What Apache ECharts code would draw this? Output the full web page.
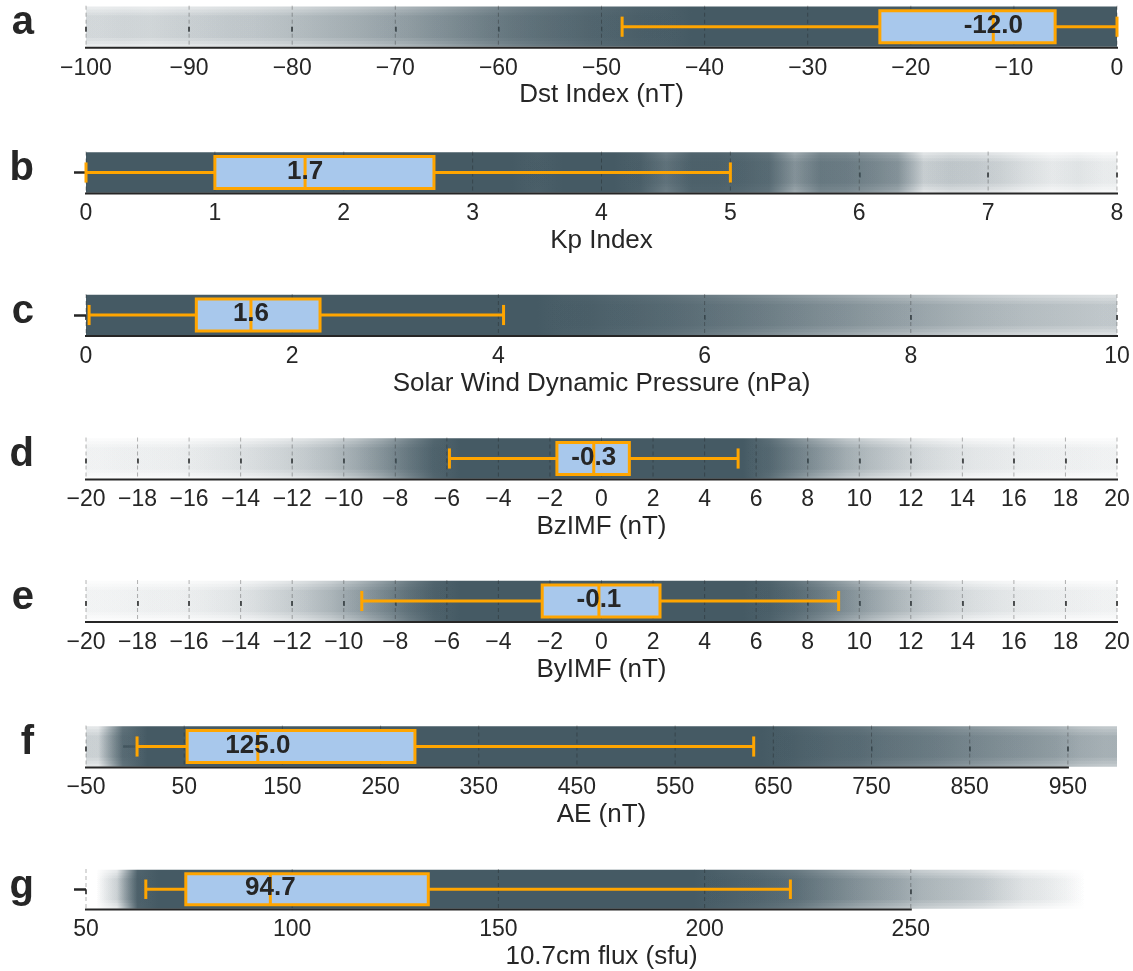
<!DOCTYPE html>
<html>
<head>
<meta charset="utf-8">
<script src="https://cdn.jsdelivr.net/npm/echarts@6/dist/echarts.min.js"></script>
<style>
  html, body { margin: 0; padding: 0; background: #fff; }
  #chart { width: 1133px; height: 971px; }
</style>
</head>
<body>
<div id="chart"></div>
<script>
// ---------------- data ----------------
const panelLetters = ['a', 'b', 'c', 'd', 'e', 'f', 'g'];
const axisTitles = [
  'Dst Index (nT)',
  'Kp Index',
  'Solar Wind Dynamic Pressure (nPa)',
  'BzIMF (nT)',
  'ByIMF (nT)',
  'AE (nT)',
  '10.7cm flux (sfu)'
];
const axisMins = [-100, 0, 0, -20, -20, -50, 50];
const axisMaxs = [0, 8, 10, 20, 20, 1000, 300];

const dstTicks = [-100, -90, -80, -70, -60, -50, -40, -30, -20, -10, 0];
const kpTicks = [0, 1, 2, 3, 4, 5, 6, 7, 8];
const pdynTicks = [0, 2, 4, 6, 8, 10];
const bzTicks = [-20, -18, -16, -14, -12, -10, -8, -6, -4, -2, 0, 2, 4, 6, 8, 10, 12, 14, 16, 18, 20];
const byTicks = [-20, -18, -16, -14, -12, -10, -8, -6, -4, -2, 0, 2, 4, 6, 8, 10, 12, 14, 16, 18, 20];
const aeTicks = [-50, 50, 150, 250, 350, 450, 550, 650, 750, 850, 950];
const f107Ticks = [50, 100, 150, 200, 250];

// box statistics: [lower whisker, Q1, median, Q3, upper whisker]
const dstBox = [-48, -23, -12.0, -6, 0];
const kpBox = [0, 1.0, 1.7, 2.7, 5.0];
const pdynBox = [0.03, 1.07, 1.6, 2.27, 4.05];
const bzBox = [-5.9, -1.73, -0.3, 1.08, 5.3];
const byBox = [-9.3, -2.3, -0.1, 2.27, 9.2];
const aeBox = [2, 53, 125.0, 285, 630];
const f107Box = [64.5, 74.2, 94.7, 133, 220.8];

// relative density of the individual samples, per bin (1 = saturated strip)
const dstBinStart = -100, dstBinWidth = 2.5;
const dstDensity = [0.24, 0.26, 0.25, 0.28, 0.3, 0.33, 0.35, 0.38, 0.42, 0.46, 0.5, 0.55,
  0.6, 0.66, 0.72, 0.78, 0.83, 0.87, 0.9, 0.93, 0.95, 0.97, 0.98, 1,
  1, 1, 1, 1, 1, 1, 1, 1, 1, 1, 1, 1, 1, 1, 1, 1];

const kpBinStart = 0, kpBinWidth = 0.2;
const kpDensity = [1, 1, 1, 1, 1, 1, 1, 1, 1, 1, 1, 1, 1, 1, 1,
  1, 1, 0.98, 1, 1, 1, 0.97, 0.86, 0.96, 0.96,
  0.94, 0.9, 0.66, 0.82, 0.8, 0.74, 0.66, 0.3, 0.35, 0.33,
  0.28, 0.2, 0.14, 0.17, 0.12];

const pdynBinStart = 0, pdynBinWidth = 0.25;
const pdynDensity = [1, 1, 1, 1, 1, 1, 1, 1, 1, 1, 1, 1, 1, 1, 1, 1,
  1, 1, 0.98, 0.97, 0.95, 0.93, 0.91, 0.88, 0.85, 0.82, 0.78, 0.74,
  0.7, 0.66, 0.62, 0.58, 0.54, 0.5, 0.46, 0.43, 0.4, 0.38, 0.36, 0.34];

const bzBinStart = -20, bzBinWidth = 1;
const bzDensity = [0.08, 0.09, 0.1, 0.11, 0.14, 0.17, 0.21, 0.26, 0.32, 0.4,
  0.52, 0.66, 0.82, 0.95, 1, 1, 1, 1, 1, 1, 1, 1, 1, 1, 1, 1,
  0.92, 0.78, 0.64, 0.5, 0.4, 0.32, 0.24, 0.19, 0.15, 0.13, 0.11, 0.1, 0.09, 0.08];

const byBinStart = -20, byBinWidth = 1;
const byDensity = [0.07, 0.08, 0.09, 0.1, 0.12, 0.15, 0.2, 0.27, 0.35, 0.45,
  0.58, 0.72, 0.86, 0.96, 1, 1, 1, 1, 1, 1, 1, 1, 1, 1, 1, 1,
  0.97, 0.9, 0.8, 0.68, 0.55, 0.44, 0.34, 0.26, 0.2, 0.16, 0.13, 0.11, 0.1, 0.08];

const aeBinStart = -50, aeBinWidth = 25;
const aeDensity = [0.28, 0.9, 1, 1, 1, 1, 1, 1, 1, 1, 1, 1, 1, 1, 1, 1, 1, 1,
  1, 1, 1, 1, 1, 1, 1, 1, 1, 1, 0.98, 0.95, 0.92, 0.9, 0.86, 0.83,
  0.8, 0.76, 0.72, 0.68, 0.64, 0.6, 0.52, 0.48];

const f107BinStart = 50, f107BinWidth = 5;
const f107Density = [0, 0.28, 0.96, 1, 1, 1, 1, 1, 1, 1, 1, 1, 1, 1, 1, 1, 1, 1,
  1, 1, 1, 1, 1, 1, 1, 1, 1, 1, 1, 1, 0.98, 0.96, 0.94, 0.91, 0.87, 0.8,
  0.73, 0.66, 0.6, 0.54, 0.46, 0.42, 0.38, 0.33, 0.25, 0.18, 0.14, 0.08, 0, 0];

// ---------------- assembly ----------------
const panels = [
  { ticks: dstTicks, box: dstBox, binStart: dstBinStart, binWidth: dstBinWidth, density: dstDensity },
  { ticks: kpTicks, box: kpBox, binStart: kpBinStart, binWidth: kpBinWidth, density: kpDensity },
  { ticks: pdynTicks, box: pdynBox, binStart: pdynBinStart, binWidth: pdynBinWidth, density: pdynDensity },
  { ticks: bzTicks, box: bzBox, binStart: bzBinStart, binWidth: bzBinWidth, density: bzDensity },
  { ticks: byTicks, box: byBox, binStart: byBinStart, binWidth: byBinWidth, density: byDensity },
  { ticks: aeTicks, box: aeBox, binStart: aeBinStart, binWidth: aeBinWidth, density: aeDensity },
  { ticks: f107Ticks, box: f107Box, binStart: f107BinStart, binWidth: f107BinWidth, density: f107Density }
];

const FONT = '"Liberation Sans", Arial, Helvetica, sans-serif';
const INK = '#262626';
const POINT_RGB = '69,90,100';
const BOX_FILL = '#A8C8EC';
const BOX_EDGE = '#FFA500';

const AXIS_Y = [47.7, 193.5, 336, 479.5, 622, 767.5, 911];
const PLOT_H = 42;

// strip of samples: stacked layers so the rim is lighter than the core
function densityRenderer(p) {
  return function (params, api) {
    const n = p.density.length;
    const x0 = p.binStart, x1 = p.binStart + n * p.binWidth;
    const halfHeights = [0.48, 0.41, 0.34, 0.27];
    const L = halfHeights.length;
    const children = [];
    halfHeights.forEach((h, k) => {
      const tl = api.coord([x0, h]);
      const br = api.coord([x1, -h]);
      const stops = p.density.map((d, j) => {
        const rim = Math.pow(d, 1.5);
        const A = rim + (d - rim) * k / (L - 1);
        const Aprev = k === 0 ? 0 : rim + (d - rim) * (k - 1) / (L - 1);
        const a = Aprev >= 0.999 ? 0 : Math.max(0, 1 - (1 - A) / (1 - Aprev));
        return { offset: (j + 0.5) / n, color: 'rgba(' + POINT_RGB + ',' + a.toFixed(3) + ')' };
      });
      children.push({
        type: 'rect',
        shape: { x: tl[0], y: tl[1], width: br[0] - tl[0], height: br[1] - tl[1] },
        style: { fill: new echarts.graphic.LinearGradient(0, 0, 1, 0, stops) }
      });
    });
    return { type: 'group', children };
  };
}

// dashed vertical grid at each tick plus the bottom spine trimmed to the tick range
function frameRenderer(p) {
  return function (params, api) {
    const children = p.ticks.map(t => {
      const a = api.coord([t, 0.5]);
      const b = api.coord([t, -0.5]);
      return {
        type: 'line',
        shape: { x1: a[0], y1: a[1], x2: b[0], y2: b[1] },
        style: { stroke: 'rgba(25,25,25,0.32)', lineWidth: 1, lineDash: [4, 3] }
      };
    });
    const s0 = api.coord([p.ticks[0], -0.5]);
    const s1 = api.coord([p.ticks[p.ticks.length - 1], -0.5]);
    children.push({
      type: 'line',
      shape: { x1: s0[0] - 1, y1: s0[1], x2: s1[0] + 1, y2: s1[1] },
      style: { stroke: INK, lineWidth: 2 }
    });
    return { type: 'group', children };
  };
}

// box, whiskers, caps, median and its value label
function boxRenderer(p) {
  return function (params, api) {
    const [lo, q1, med, q3, hi] = p.box;
    const half = 0.38, capHalf = 0.24;
    const P = (v, y) => api.coord([v, y]);
    const seg = (a, b) => ({
      type: 'line',
      shape: { x1: a[0], y1: a[1], x2: b[0], y2: b[1] },
      style: { stroke: BOX_EDGE, lineWidth: 3 }
    });
    const tl = P(q1, half), br = P(q3, -half);
    const mid = P(med, 0);
    return {
      type: 'group',
      children: [
        seg(P(lo, 0), P(q1, 0)),
        seg(P(q3, 0), P(hi, 0)),
        seg(P(lo, capHalf), P(lo, -capHalf)),
        seg(P(hi, capHalf), P(hi, -capHalf)),
        {
          type: 'rect',
          shape: { x: tl[0], y: tl[1], width: br[0] - tl[0], height: br[1] - tl[1] },
          style: { fill: BOX_FILL, stroke: BOX_EDGE, lineWidth: 3 }
        },
        seg(P(med, half), P(med, -half)),
        {
          type: 'text',
          style: {
            text: med.toFixed(1),
            x: mid[0], y: mid[1] - 1,
            align: 'center', verticalAlign: 'middle',
            font: 'bold 26px ' + FONT,
            fill: INK
          }
        }
      ]
    };
  };
}

const grids = [], xAxes = [], yAxes = [], series = [], graphics = [];
panels.forEach((p, i) => {
  grids.push({ left: 86, right: 16, top: AXIS_Y[i] - PLOT_H, height: PLOT_H });
  xAxes.push({
    gridIndex: i, type: 'value', min: axisMins[i], max: axisMaxs[i],
    axisLine: { show: false },
    axisTick: { show: true, customValues: p.ticks, length: 5, lineStyle: { color: INK, width: 1.5 } },
    axisLabel: {
      show: true, customValues: p.ticks, margin: 9,
      fontSize: 23, fontFamily: FONT, color: INK,
      formatter: v => String(v).replace('-', '\u2212')
    },
    splitLine: { show: false },
    name: axisTitles[i], nameLocation: 'middle', nameGap: 34.5,
    nameTextStyle: { fontSize: 26, fontFamily: FONT, color: INK }
  });
  yAxes.push({
    gridIndex: i, type: 'value', min: -0.5, max: 0.5,
    axisLine: { show: false }, axisLabel: { show: false }, splitLine: { show: false },
    axisTick: { show: true, customValues: [0], length: 12, lineStyle: { color: INK, width: 2.5 } }
  });
  series.push(
    { type: 'custom', xAxisIndex: i, yAxisIndex: i, z: 1, silent: true, clip: false,
      renderItem: densityRenderer(p), data: [[p.binStart, 0]] },
    { type: 'custom', xAxisIndex: i, yAxisIndex: i, z: 2, silent: true, clip: false,
      renderItem: frameRenderer(p), data: [[p.ticks[0], 0]] },
    { type: 'custom', xAxisIndex: i, yAxisIndex: i, z: 3, silent: true, clip: false,
      renderItem: boxRenderer(p), data: [[p.box[2], 0]] }
  );
  graphics.push({
    type: 'text', x: 34, y: AXIS_Y[i] - 24.5,
    style: { text: panelLetters[i], font: 'bold 40px ' + FONT, fill: INK, align: 'right', verticalAlign: 'middle' }
  });
});

const chart = echarts.init(document.getElementById('chart'), null, { renderer: 'canvas' });
chart.setOption({
  backgroundColor: '#ffffff',
  animation: false,
  textStyle: { fontFamily: FONT },
  grid: grids,
  xAxis: xAxes,
  yAxis: yAxes,
  series: series,
  graphic: graphics
});
</script>
</body>
</html>
